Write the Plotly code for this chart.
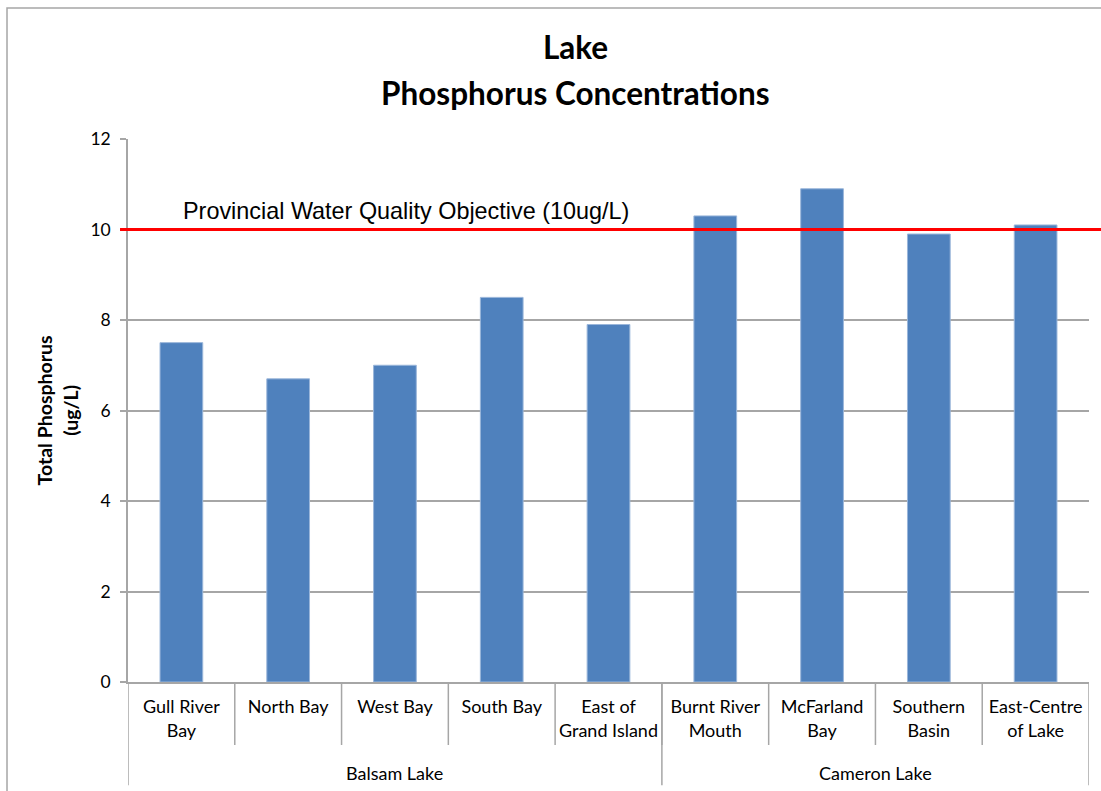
import plotly.graph_objects as go

# data
sites = ["Gull River<br>Bay", "North Bay", "West Bay", "South Bay", "East of<br>Grand Island",
         "Burnt River<br>Mouth", "McFarland<br>Bay", "Southern<br>Basin", "East-Centre<br>of Lake"]
lakes = ["Balsam Lake", "Cameron Lake"]
lake_counts = [5, 4]
phosphorus = [7.5, 6.7, 7.0, 8.5, 7.9, 10.3, 10.9, 9.9, 10.1]
objective = 10
objective_label = "Provincial Water Quality Objective (10ug/L)"
y_ticks = [0, 2, 4, 6, 8, 10, 12]

GRID = "#a6a6a6"
LABEL_FONT = "Lato, Calibri, sans-serif"

fig = go.Figure()
fig.add_trace(go.Bar(
    x=list(range(len(sites))), y=phosphorus, width=0.4,
    marker=dict(color="#4f81bd", line=dict(color="#9ab6da", width=1)),
    showlegend=False,
))

fig.update_layout(
    width=1101, height=791,
    margin=dict(l=128, r=12, t=139, b=109),
    plot_bgcolor="white", paper_bgcolor="white",
    font=dict(family=LABEL_FONT, size=16, color="black"),
    xaxis=dict(
        range=[-0.5, len(sites) - 0.5],
        tickmode="array", tickvals=list(range(len(sites))), ticktext=sites,
        showgrid=False, zeroline=False, ticks="",
        showline=True, linecolor=GRID, linewidth=1.5,
        tickfont=dict(size=18), ticklabelstandoff=8,
    ),
    yaxis=dict(
        range=[0, 12], tickvals=y_ticks,
        showgrid=True, gridcolor=GRID, gridwidth=1.5, zeroline=False,
        showline=True, linecolor=GRID, linewidth=1.5,
        ticks="outside", ticklen=6, tickcolor=GRID, tickwidth=1.5,
        tickfont=dict(size=17.5), ticklabelstandoff=6,
    ),
)

# objective line and label
fig.add_shape(type="line", xref="paper", yref="y", x0=-0.0083, x1=1.05, y0=objective, y1=objective,
              line=dict(color="#ff0000", width=3))
fig.add_annotation(xref="paper", yref="y", x=0.055, y=objective + 0.41, text=objective_label,
                   showarrow=False, xanchor="left", yanchor="middle",
                   font=dict(family="Liberation Sans, Arial", size=23.4, color="black"))

# category separators (two-level axis)
n = len(sites)
for i in range(1, n):
    fig.add_shape(type="line", xref="x", yref="paper", x0=i - 0.5, x1=i - 0.5, y0=0, y1=-0.116,
                  line=dict(color=GRID, width=1.5))
edge = -0.5
bounds = [edge]
for c in lake_counts:
    edge += c
    bounds.append(edge)
for b in bounds:
    fig.add_shape(type="line", xref="x", yref="paper", x0=b, x1=b, y0=0, y1=-0.19,
                  line=dict(color=GRID, width=1.5))
for lake, a, b in zip(lakes, bounds[:-1], bounds[1:]):
    fig.add_annotation(xref="x", yref="paper", x=(a + b) / 2, y=-0.1676, text=lake,
                       showarrow=False, yanchor="middle", font=dict(size=18))

# y title
fig.add_annotation(xref="paper", yref="paper", x=-0.074, y=0.5, text="<b>Total Phosphorus<br>(ug/L)</b>",
                   showarrow=False, textangle=-90, xanchor="center", yanchor="middle",
                   font=dict(size=19.5))

# chart title
fig.add_annotation(xref="paper", yref="paper", x=0.466, y=1.0, yshift=92, text="<b>Lake</b>",
                   showarrow=False, yanchor="middle", font=dict(size=31.5))
fig.add_annotation(xref="paper", yref="paper", x=0.466, y=1.0, yshift=46, text="<b>Phosphorus Concentrations</b>",
                   showarrow=False, yanchor="middle", font=dict(size=31.5))

# chart border (right and bottom edges fall outside the window)
fig.add_shape(type="rect", xref="paper", yref="paper", x0=-0.1259, x1=1.15, y0=-0.35, y1=1.2413,
              line=dict(color=GRID, width=1.5), layer="below")

# drop the page's default body margin so the figure fills the window
fig.write_html("out.html", config={"displayModeBar": False},
               post_script="document.body.style.margin='0';"
                           "document.documentElement.style.overflow='hidden';")
